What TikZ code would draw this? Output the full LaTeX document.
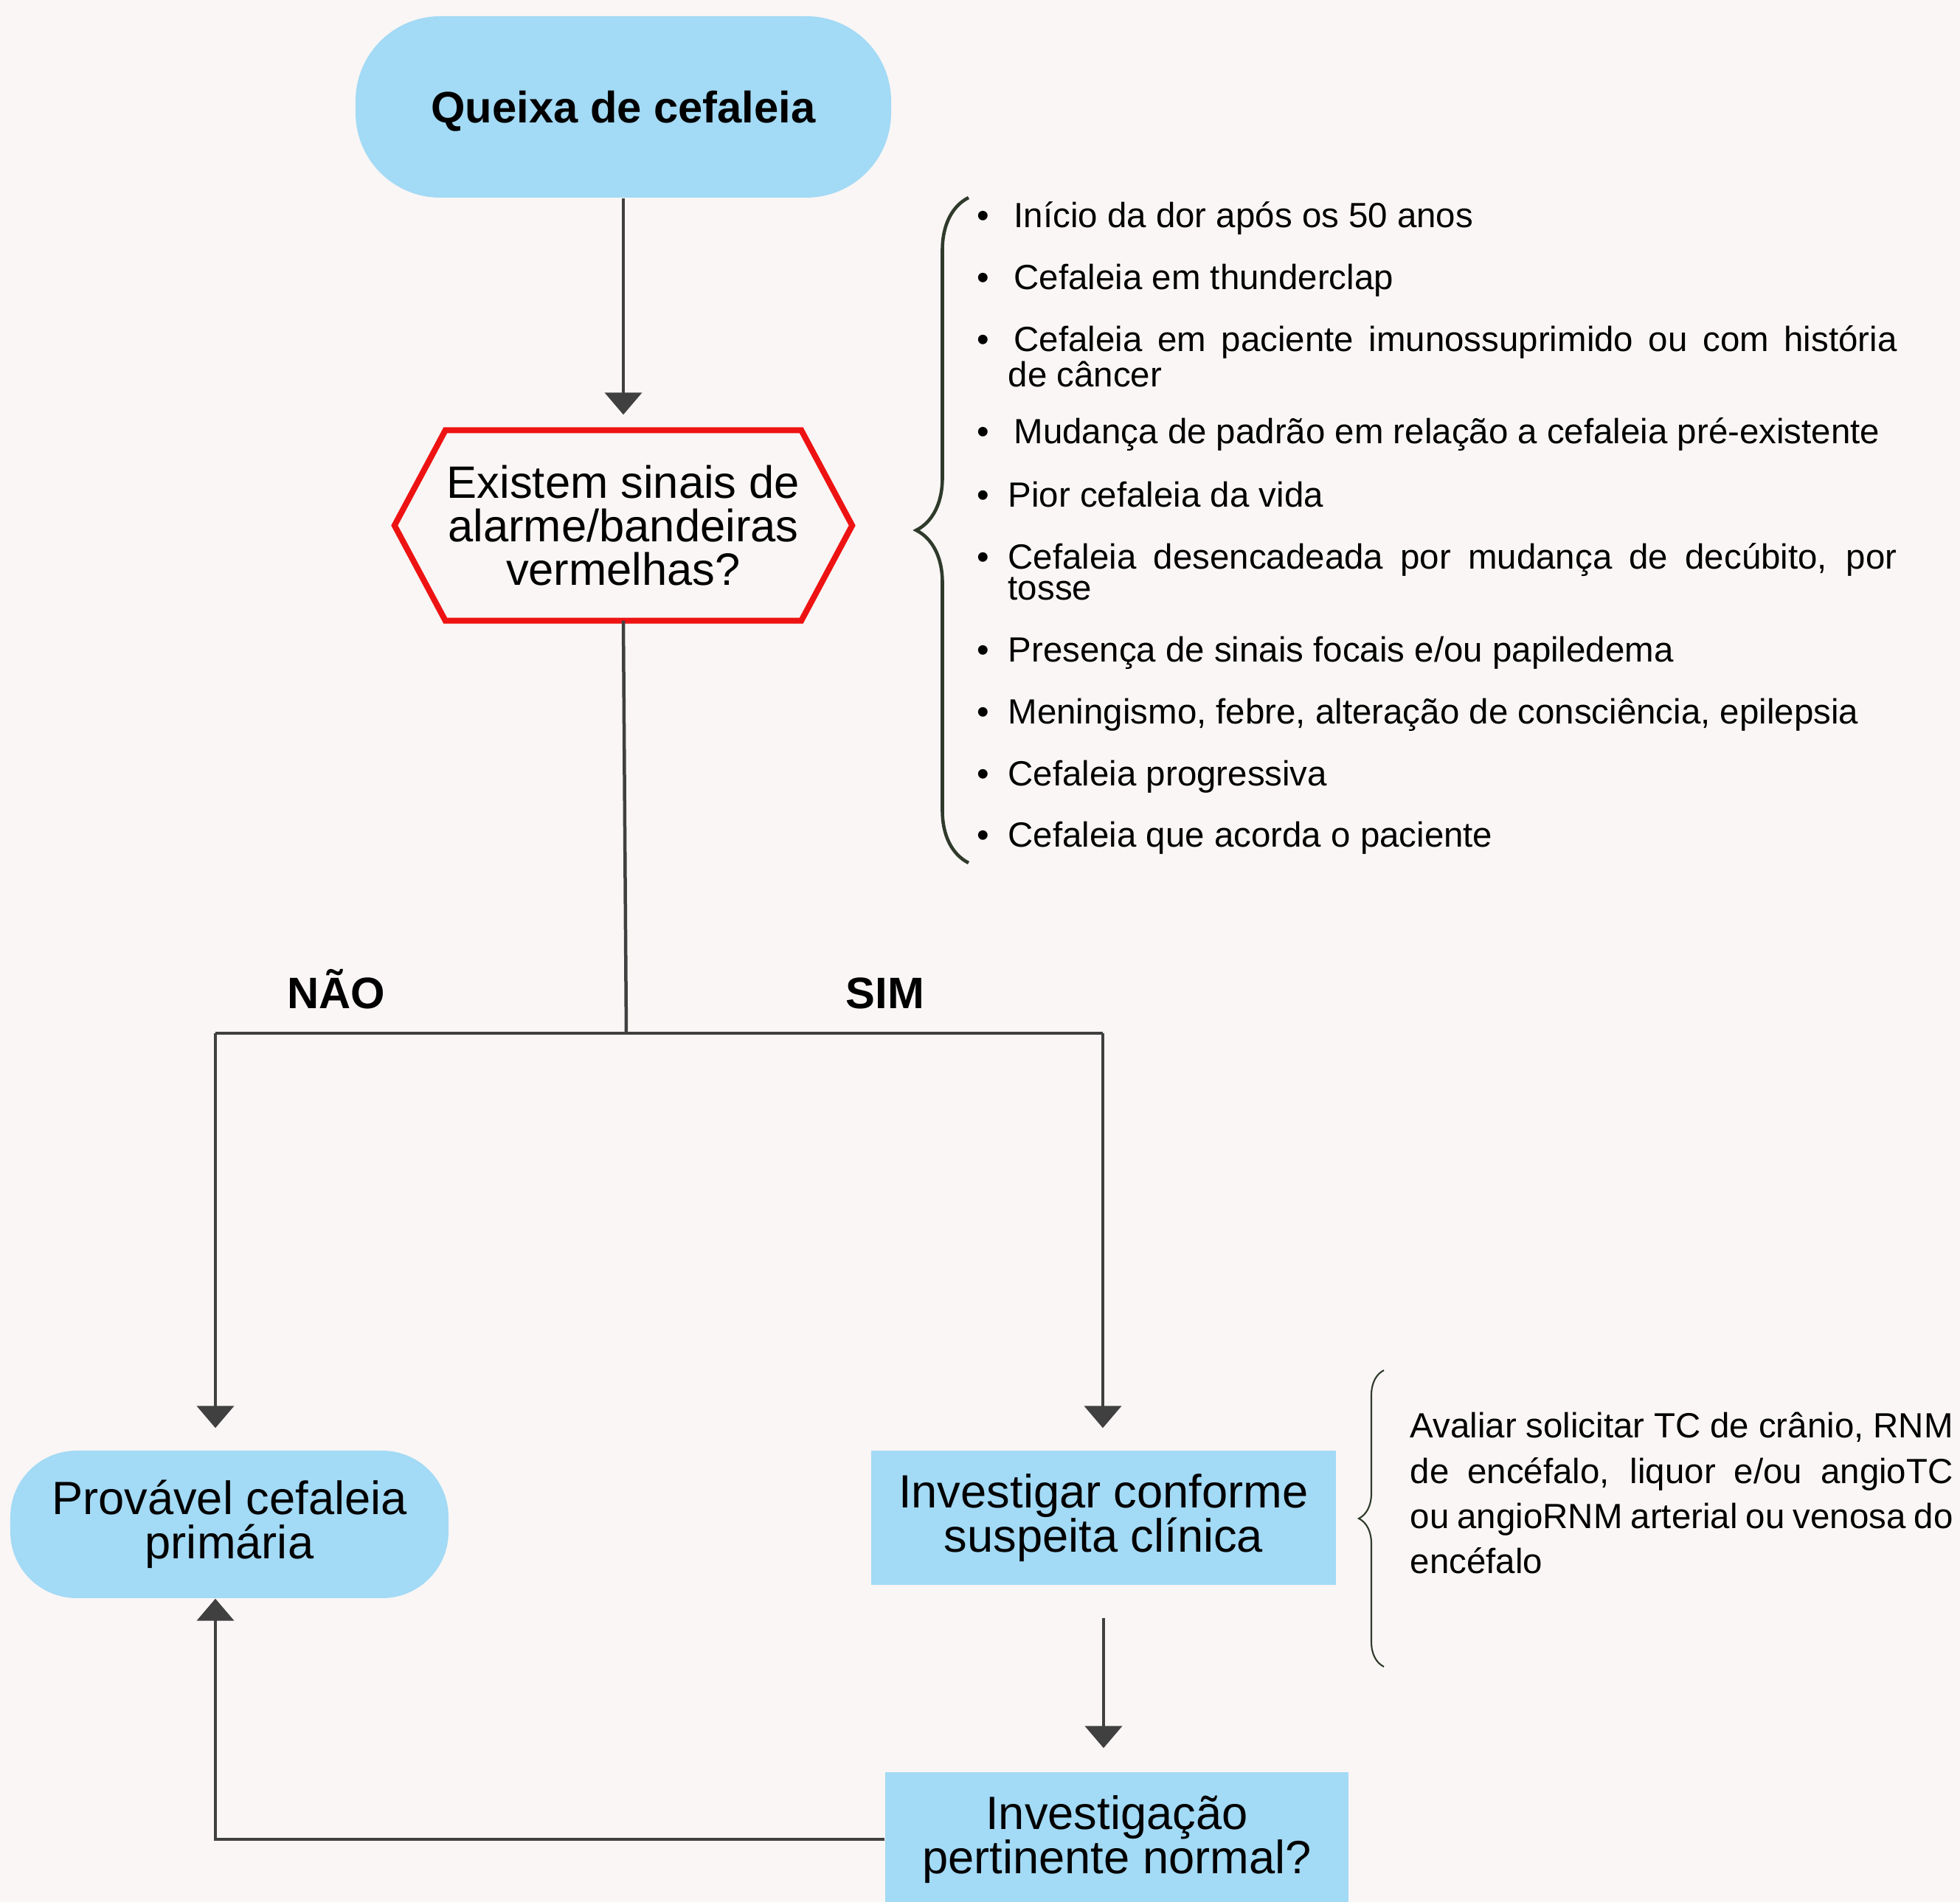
\documentclass[tikz,border=0pt]{standalone}
\usepackage{fontspec}
\setmainfont{Liberation Sans}
\usetikzlibrary{arrows.meta,decorations.pathreplacing}

\definecolor{fundo}{HTML}{F9F6F5}
\definecolor{azul}{HTML}{A3DAF5}
\definecolor{alarme}{HTML}{EE1313}
\definecolor{cinza}{HTML}{404040}
\definecolor{verde}{HTML}{2F3A2B}

\newcommand{\marca}[1]{\makebox[0.42cm][l]{\textbullet}\parbox[t]{12.05cm}{#1}}

\tikzset{
  inicio/.style={fill=azul, rounded corners=1.15cm, minimum width=7.26cm, minimum height=2.46cm, inner sep=0pt, text height=0.43cm, text depth=0pt, font=\fontsize{17}{17}\selectfont\bfseries},
  terminal/.style={fill=azul, rounded corners=0.9cm, minimum width=5.94cm, minimum height=2.00cm, align=center, inner sep=0pt, font=\fontsize{18}{17.2}\selectfont},
  acao/.style={fill=azul, minimum width=6.3cm, minimum height=1.82cm, align=center, inner sep=0pt, font=\fontsize{18}{17}\selectfont},
  pergunta/.style={minimum width=4.81cm, minimum height=2.57cm, align=center, inner sep=0pt, font=\fontsize{17.5}{16.8}\selectfont},
  borda/.style={draw=alarme, line width=0.08cm},
  fluxo/.style={draw=cinza, line width=0.045cm},
  seta/.style={fluxo, -{Triangle[width=0.5cm,length=0.3cm]}},
  resposta/.style={anchor=base, inner sep=0pt, font=\fontsize{17}{17}\selectfont\bfseries},
  sinal/.style={anchor=base west, inner sep=0pt, font=\fontsize{13.5}{11.95}\selectfont},
  nota/.style={anchor=base west, text width=7.36cm, align=justify, inner sep=0pt, font=\fontsize{13.5}{17.36}\selectfont},
  chave/.style={decorate, decoration={brace, amplitude=#1}, draw=verde}
}

\begin{document}
\begin{tikzpicture}
	\fill[fundo] (0,0) rectangle (26.57,-25.79);
	\useasboundingbox (0,0) rectangle (26.57,-25.79);

	\node[inicio] (queixa) at (8.45,-1.45) {Queixa de cefaleia};
	\node[pergunta, below of=queixa, node distance=5.675cm] (alarme) {Existem sinais de\\alarme/bandeiras\\vermelhas?};
	\draw[borda] (alarme.north west) -- (alarme.north east) -- ([xshift=0.69cm]alarme.east) -- (alarme.south east) -- (alarme.south west) -- ([xshift=-0.69cm]alarme.west) -- cycle;

	\coordinate (ramo) at (8.49,-14.01);
	\coordinate (nao) at (2.92,-14.01);
	\coordinate (sim) at (14.95,-14.01);

	\node[resposta] (lnao) at (4.56,-13.68) {NÃO};
	\node[resposta] (lsim) at (12.00,-13.68) {SIM};

	\node[terminal] (provavel) at (3.11,-20.67) {Provável cefaleia\\primária};
	\node[acao] (investigar) at (14.96,-20.58) {Investigar conforme\\suspeita clínica};
	\node[acao, minimum width=6.28cm] (normal) at (15.14,-24.94) {Investigação\\pertinente normal?};

	% sinais de alarme
	\node[sinal] (s1) at (13.24,-3.09) {\marca{\hspace{0.08cm}Início da dor após os 50 anos}};
	\node[sinal] (s2) at (13.24,-3.93) {\marca{\hspace{0.08cm}Cefaleia em thunderclap}};
	\node[sinal] (s3) at (13.24,-4.77) {\marca{\hspace{0.08cm}Cefaleia em paciente imunossuprimido ou com história\linebreak de câncer}};
	\node[sinal] (s4) at (13.24,-6.02) {\marca{\hspace{0.08cm}Mudança de padrão em relação a cefaleia pré-existente}};
	\node[sinal] (s5) at (13.24,-6.88) {\marca{Pior cefaleia da vida}};
	\node[sinal] (s6) at (13.24,-7.72) {\marca{Cefaleia desencadeada por mudança de decúbito, por\linebreak tosse}};
	\node[sinal] (s7) at (13.24,-8.98) {\marca{Presença de sinais focais e/ou papiledema}};
	\node[sinal] (s8) at (13.24,-9.82) {\marca{Meningismo, febre, alteração de consciência, epilepsia}};
	\node[sinal] (s9) at (13.24,-10.66) {\marca{Cefaleia progressiva}};
	\node[sinal] (s10) at (13.24,-11.49) {\marca{Cefaleia que acorda o paciente}};
	\draw[chave=0.71cm, line width=1.3pt] (13.13,-11.70) -- (13.13,-2.68);

	% exames
	\node[nota] (exames) at (19.11,-19.50) {Avaliar solicitar TC de crânio, RNM\linebreak de encéfalo, liquor e/ou angioTC\linebreak ou angioRNM arterial ou venosa do\linebreak encéfalo};
	\draw[chave=0.34cm, line width=0.6pt] (18.76,-22.60) -- (18.76,-18.58);

	\draw[seta, shorten >=0.21cm] (queixa.south) -- (alarme.north);
	\draw[fluxo] (alarme.south) -- (ramo);
	\draw[fluxo] (nao) -- (sim);
	\draw[seta, shorten >=0.30cm] (nao) -- (nao |- provavel.north);
	\draw[seta, shorten >=0.30cm] (sim) -- (sim |- investigar.north);
	\draw[seta, shorten <=0.44cm, shorten >=0.32cm] (investigar.south) -- (investigar.south |- normal.north);
	\draw[seta] (normal.west) -| (nao |- provavel.south);
\end{tikzpicture}
\end{document}
